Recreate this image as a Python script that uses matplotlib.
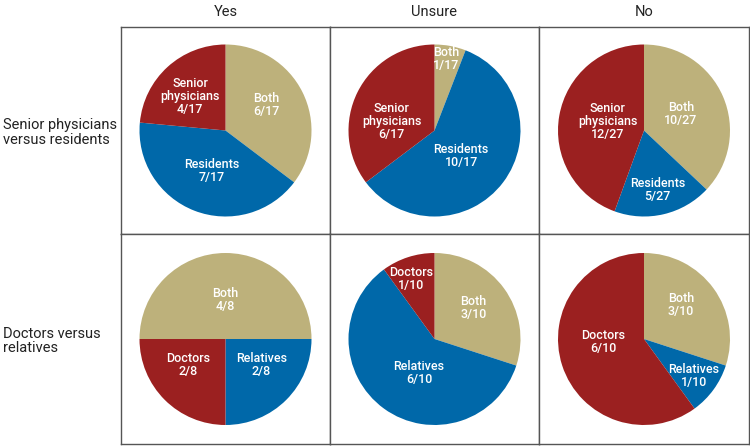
import matplotlib
matplotlib.use("Agg")
import matplotlib.pyplot as plt

plt.rcParams["font.family"] = ["Roboto", "DejaVu Sans"]

# ---- data -------------------------------------------------------------
columns = ["Yes", "Unsure", "No"]
rows = ["Senior physicians\nversus residents", "Doctors versus\nrelatives"]

# row 1: Both / Residents / Senior physicians
sr_names = ["Both", "Residents", "Senior\nphysicians"]
sr_values = [[6, 7, 4], [1, 10, 6], [10, 5, 12]]
sr_total = [17, 17, 27]

# row 2: Both / Relatives / Doctors
dr_names = ["Both", "Relatives", "Doctors"]
dr_values = [[4, 2, 2], [3, 6, 1], [3, 1, 6]]
dr_total = [8, 10, 10]

# ---- layout / style ---------------------------------------------------
colors = ["#BDB17B", "#0068A9", "#9B2020"]
start_angles = [[90, 90, 90], [180, 90, 90]]
# label centres in units of pie radius
label_pos = [
    [[(0.47, 0.30), (-0.16, -0.47), (-0.41, 0.40)],
     [(0.14, 0.83), (0.31, -0.30), (-0.50, 0.10)],
     [(0.43, 0.19), (0.16, -0.69), (-0.42, 0.10)]],
    [[(0.00, 0.45), (0.42, -0.30), (-0.44, -0.30)],
     [(0.45, 0.36), (-0.18, -0.40), (-0.27, 0.70)],
     [(0.43, 0.39), (0.58, -0.43), (-0.47, -0.04)]],
]

W, H = 750, 448
x_edges = [121, 330, 539, 749]
y_edges = [27, 234, 444]
R = 86  # pie radius in pixels

fig = plt.figure(figsize=(W / 100, H / 100), dpi=100)

for r in range(2):
    names = sr_names if r == 0 else dr_names
    vals = sr_values if r == 0 else dr_values
    totals = sr_total if r == 0 else dr_total
    y0, y1 = y_edges[r], y_edges[r + 1]
    for c in range(3):
        x0, x1 = x_edges[c], x_edges[c + 1]
        ax = fig.add_axes([x0 / W, (H - y1) / H, (x1 - x0) / W, (y1 - y0) / H])
        ax.pie(vals[c], colors=colors, startangle=start_angles[r][c],
               counterclock=False, radius=1,
               wedgeprops=dict(linewidth=0))
        ax.set_aspect("auto")
        ax.set_xlim(-(x1 - x0) / 2 / R, (x1 - x0) / 2 / R)
        ax.set_ylim(-(y1 - y0) / 2 / R, (y1 - y0) / 2 / R)
        ax.set_frame_on(True)
        ax.set_xticks([])
        ax.set_yticks([])
        for s in ax.spines.values():
            s.set_visible(True)
            s.set_color("#555555")
            s.set_linewidth(1.0)
        for i, name in enumerate(names):
            lx, ly = label_pos[r][c][i]
            ax.text(lx, ly, f"{name}\n{vals[c][i]}/{totals[c]}",
                    ha="center", va="center", color="white",
                    fontsize=9, fontweight="medium", linespacing=1.0)

for c, col in enumerate(columns):
    fig.text((x_edges[c] + x_edges[c + 1]) / 2 / W, 1 - 12 / H, col,
             ha="center", va="center", fontsize=10.5, color="#222222")

for r, row in enumerate(rows):
    yc = (y_edges[r] + y_edges[r + 1]) / 2 + 2
    fig.text(3 / W, 1 - yc / H, row, ha="left", va="center",
             fontsize=10.5, color="#222222", linespacing=1.05)

fig.savefig("out.png", dpi=100)
